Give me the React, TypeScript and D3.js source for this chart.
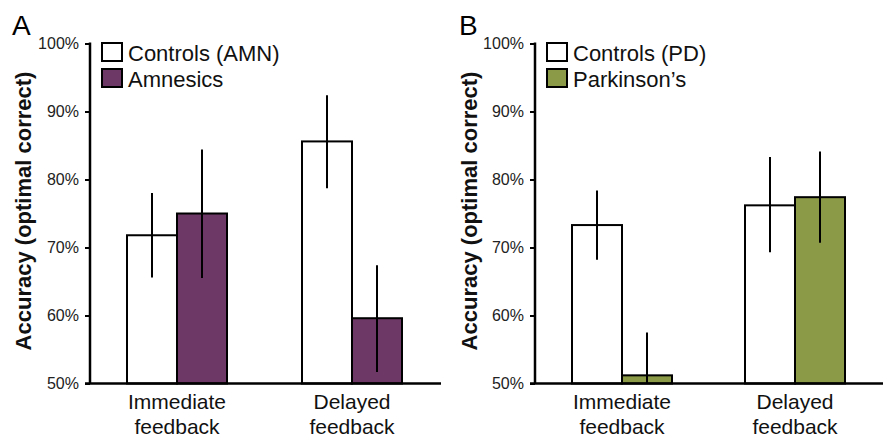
import * as d3 from 'd3';
import React, { useEffect, useRef } from 'react';

const categories = ['Immediate feedback', 'Delayed feedback'];
const yTicks = [50, 60, 70, 80, 90, 100];

// panel A
const seriesA = ['Controls (AMN)', 'Amnesics'];
const meanA = [
  [71.8, 85.6],
  [75.0, 59.6],
];
const lowA = [
  [65.6, 78.7],
  [65.5, 51.7],
];
const highA = [
  [78.0, 92.4],
  [84.4, 67.4],
];

// panel B
const seriesB = ['Controls (PD)', "Parkinson\u2019s"];
const meanB = [
  [73.3, 76.2],
  [51.2, 77.4],
];
const lowB = [
  [68.2, 69.3],
  [50.0, 70.7],
];
const highB = [
  [78.4, 83.3],
  [57.5, 84.1],
];

const width = 883;
const height = 437;
const font = '"Liberation Sans", Arial, Helvetica, sans-serif';

interface PanelSpec {
  letter: string;
  series: string[];
  mean: number[][];
  low: number[][];
  high: number[][];
  fill: string;
  axisX: number;
  axisEnd: number;
  groupRange: [number, number];
  letterX: number;
  titleX: number;
}

const panels: PanelSpec[] = [
  {
    letter: 'A',
    series: seriesA,
    mean: meanA,
    low: lowA,
    high: highA,
    fill: '#6d3865',
    axisX: 90,
    axisEnd: 441,
    groupRange: [177, 352],
    letterX: 12,
    titleX: 23,
  },
  {
    letter: 'B',
    series: seriesB,
    mean: meanB,
    low: lowB,
    high: highB,
    fill: '#8b9a47',
    axisX: 535,
    axisEnd: 883,
    groupRange: [622, 795],
    letterX: 459,
    titleX: 469,
  },
];

const App: React.FC = () => {
  const ref = useRef<SVGSVGElement>(null);
  useEffect(() => {
    const svg = d3.select(ref.current);
    svg.selectAll('*').remove();

    const y = d3.scaleLinear().domain([50, 100]).range([383.5, 43.5]);

    panels.forEach((p) => {
      const g = svg.append('g');
      const x0 = d3.scalePoint<string>().domain(categories).range(p.groupRange);
      const x1 = d3.scaleBand<number>().domain([0, 1]).range([-50, 50]);

      // bars + error bars
      p.series.forEach((s, si) => {
        g.selectAll(null)
          .data(categories)
          .join('rect')
          .attr('x', (c) => (x0(c) || 0) + (x1(si) || 0))
          .attr('y', (c, ci) => y(p.mean[si][ci]))
          .attr('width', x1.bandwidth())
          .attr('height', (c, ci) => y(50) - y(p.mean[si][ci]))
          .attr('fill', si === 0 ? '#fff' : p.fill)
          .attr('stroke', '#000')
          .attr('stroke-width', 2);
        g.selectAll(null)
          .data(categories)
          .join('line')
          .attr('x1', (c) => (x0(c) || 0) + (x1(si) || 0) + x1.bandwidth() / 2)
          .attr('x2', (c) => (x0(c) || 0) + (x1(si) || 0) + x1.bandwidth() / 2)
          .attr('y1', (c, ci) => y(p.low[si][ci]))
          .attr('y2', (c, ci) => y(p.high[si][ci]))
          .attr('stroke', '#000')
          .attr('stroke-width', 2);
      });

      // y axis
      const yAxis = g
        .append('g')
        .attr('transform', `translate(${p.axisX},0)`)
        .call(
          d3
            .axisLeft(y)
            .tickValues(yTicks)
            .tickSize(5)
            .tickSizeOuter(0)
            .tickPadding(6)
            .tickFormat((d) => `${d}%`)
        );
      yAxis.select('.domain').remove();
      yAxis.selectAll('line').attr('stroke', '#000').attr('stroke-width', 2);
      yAxis
        .selectAll('text')
        .attr('font-family', font)
        .attr('font-size', 16)
        .attr('fill', '#222');

      g.append('line')
        .attr('x1', p.axisX)
        .attr('x2', p.axisX)
        .attr('y1', y(100) - 1)
        .attr('y2', y(50))
        .attr('stroke', '#000')
        .attr('stroke-width', 2.5);
      g.append('line')
        .attr('x1', p.axisX - 5)
        .attr('x2', p.axisEnd)
        .attr('y1', y(50))
        .attr('y2', y(50))
        .attr('stroke', '#000')
        .attr('stroke-width', 2.5);

      // category labels
      categories.forEach((c) => {
        const t = g
          .append('text')
          .attr('text-anchor', 'middle')
          .attr('font-family', font)
          .attr('font-size', 21)
          .attr('fill', '#111');
        c.split(' ').forEach((w, i) => {
          t.append('tspan')
            .attr('x', x0(c) || 0)
            .attr('y', 409 + i * 25)
            .text(w);
        });
      });

      // y title
      g.append('text')
        .attr('transform', `translate(${p.titleX + 8},${211}) rotate(-90)`)
        .attr('text-anchor', 'middle')
        .attr('font-family', font)
        .attr('font-weight', 'bold')
        .attr('font-size', 22)
        .attr('fill', '#111')
        .text('Accuracy (optimal correct)');

      // panel letter
      g.append('text')
        .attr('x', p.letterX)
        .attr('y', 35)
        .attr('font-family', font)
        .attr('font-size', 28)
        .attr('fill', '#000')
        .text(p.letter);

      // legend
      const lg = g.append('g').attr('transform', `translate(${p.axisX + 12},43)`);
      p.series.forEach((s, si) => {
        lg.append('rect')
          .attr('x', 0)
          .attr('y', si * 26)
          .attr('width', 20)
          .attr('height', 18)
          .attr('fill', si === 0 ? '#fff' : p.fill)
          .attr('stroke', '#000')
          .attr('stroke-width', 2);
        lg.append('text')
          .attr('x', 26)
          .attr('y', si * 26 + 18)
          .attr('font-family', font)
          .attr('font-size', 22)
          .attr('fill', '#111')
          .text(s);
      });
    });
  }, []);
  return (
    <svg
      ref={ref}
      width={width}
      height={height}
      style={{ position: 'absolute', left: 0, top: 0, background: '#fff' }}
    ></svg>
  );
};

export default App;
